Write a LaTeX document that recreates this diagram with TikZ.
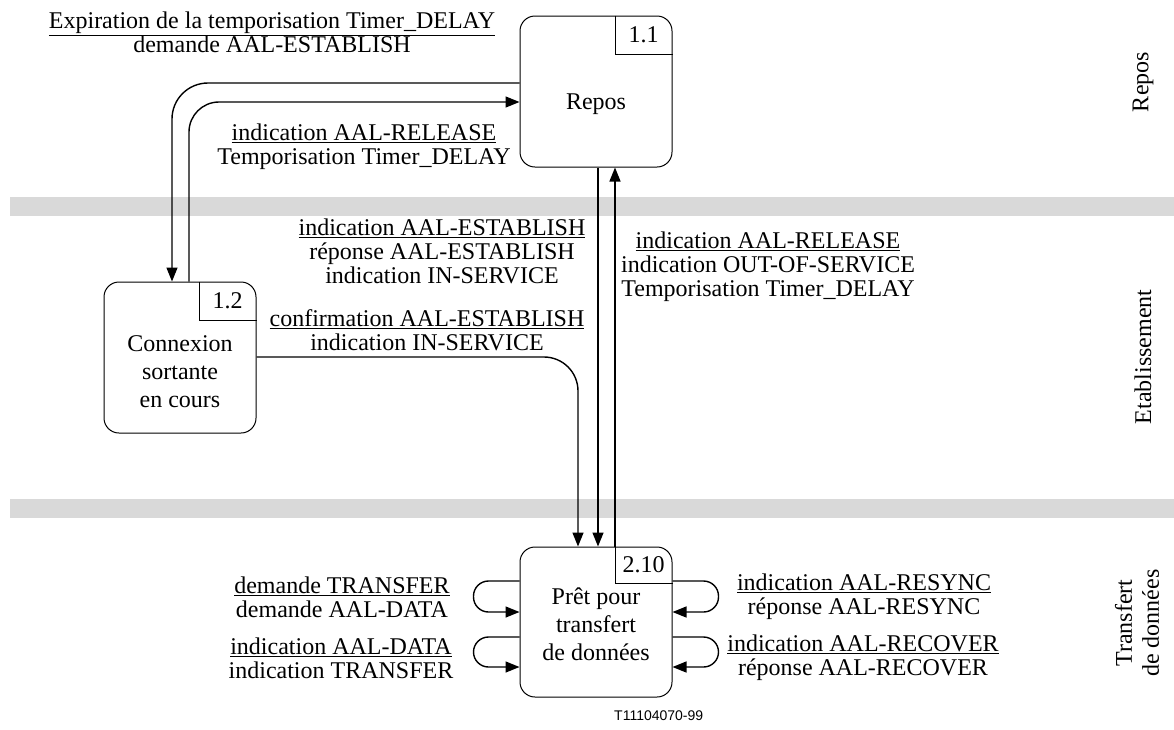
\documentclass[tikz,border=0pt]{standalone}
\usepackage{fontspec}
\setmainfont{Liberation Serif}
\newfontfamily\sanslabel{Liberation Sans}
\usetikzlibrary{arrows.meta}
\definecolor{bandgray}{RGB}{217,217,217}
\tikzset{
  etat/.style={draw, line width=1pt, rounded corners=15pt, minimum width=152pt, minimum height=151pt, inner sep=0pt},
  onglet/.style={line width=1pt},
  fleche/.style={line width=1.4pt, -{Triangle[length=14pt,width=11pt]}},
  lbl/.style={align=center, font=\fontsize{24}{24}\selectfont, inner sep=0pt},
  txt/.style={align=center, font=\fontsize{24}{28}\selectfont, inner sep=0pt},
  zone/.style={rotate=90, align=center, font=\fontsize{24}{27}\selectfont, inner sep=0pt}
}
\begin{document}
\begin{tikzpicture}[x=1pt,y=-1pt]
\useasboundingbox (0,0) rectangle (1174,729);

% bandes grises
\fill[bandgray] (10,197) rectangle (1174,216);
\fill[bandgray] (10,499) rectangle (1174,518);

% etats
\node[etat] (repos) at (596,91.5) {};
\node[etat] (conn) at (180,357.5) {};
\node[etat, minimum height=150pt] (pret) at (596,622) {};

\draw[onglet] (615,0 |- repos.north) |- (repos.east |- 0,54);
\draw[onglet] (199,0 |- conn.north) |- (conn.east |- 0,320);
\draw[onglet] (615,0 |- pret.north) |- (pret.east |- 0,583);

\node[txt] (n11) at (643.5,35) {1.1};
\node[txt] (n12) at (227.5,301) {1.2};
\node[txt] (n210) at (643.5,565) {2.10};

\node[txt] (reposT) at (596,104) {Repos};
\node[txt] (connT) at (180,372) {Connexion\\sortante\\en cours};
\node[txt] (pretT) at (596,624) {Prêt pour\\transfert\\de données};

% transitions Repos <-> Connexion
\draw[fleche, rounded corners=36pt] (repos.west |- 0,83) -| (172,0 |- conn.north);
\draw[fleche, rounded corners=30pt] (189,0 |- conn.north) |- (repos.west |- 0,102);

% transitions vers / depuis Pret
\draw[fleche] (598,0 |- repos.south) -- (598,0 |- pret.north);
\draw[fleche] (615,0 |- pret.north) -- (615,0 |- repos.south);
\draw[fleche, rounded corners=34pt] (conn.east |- 0,357) -| (578,0 |- pret.north);

% boucles
\draw[fleche, rounded corners=15pt] (pret.west |- 0,581) -- ++(-46,0) -- ++(0,31) -- (pret.west |- 0,612);
\draw[fleche, rounded corners=15pt] (pret.west |- 0,637) -- ++(-46,0) -- ++(0,30) -- (pret.west |- 0,667);
\draw[fleche, rounded corners=15pt] (pret.east |- 0,581) -- ++(46,0) -- ++(0,31) -- (pret.east |- 0,612);
\draw[fleche, rounded corners=15pt] (pret.east |- 0,637) -- ++(46,0) -- ++(0,30) -- (pret.east |- 0,667);

% etiquettes
\node[lbl] (lexp) at (272,32) {\underline{Expiration de la temporisation Timer\_DELAY}\\demande AAL-ESTABLISH};
\node[lbl] (lrel) at (364,147) {\underline{indication AAL-RELEASE}\\Temporisation Timer\_DELAY};
\node[lbl] (lest) at (442,251) {\underline{indication AAL-ESTABLISH}\\réponse AAL-ESTABLISH\\indication IN-SERVICE};
\node[lbl] (lconf) at (427,330) {\underline{confirmation AAL-ESTABLISH}\\indication IN-SERVICE};
\node[lbl] (lout) at (768,267) {\underline{indication AAL-RELEASE}\\indication OUT-OF-SERVICE\\Temporisation Timer\_DELAY};
\node[lbl] (ltr) at (342,597) {\underline{demande TRANSFER}\\demande AAL-DATA};
\node[lbl] (ldata) at (341,658) {\underline{indication AAL-DATA}\\indication TRANSFER};
\node[lbl] (lsync) at (864,597) {\underline{indication AAL-RESYNC}\\réponse AAL-RESYNC};
\node[lbl] (lrec) at (863,658) {\underline{indication AAL-RECOVER}\\réponse AAL-RECOVER};

% zones
\node[zone] (zrepos) at (1143,82) {Repos};
\node[zone] (zetab) at (1143,357) {Etablissement};
\node[zone] (ztrans) at (1137,623) {Transfert\\de données};

\node[font=\sanslabel\fontsize{14}{14}\selectfont, anchor=west, inner sep=0pt] (fig) at (614,716) {T11104070-99};

\end{tikzpicture}
\end{document}
